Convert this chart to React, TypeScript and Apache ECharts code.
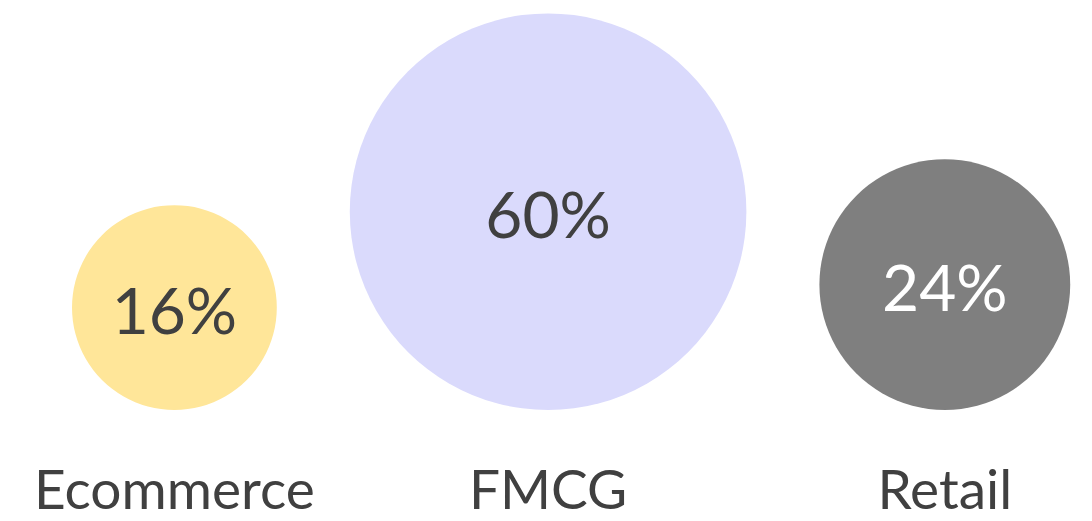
import React, { useEffect, useRef } from "react";
import * as echarts from "echarts";

const categories = ["Ecommerce", "FMCG", "Retail"];
const shares = [16, 60, 24];
const shareLabels = ["16%", "60%", "24%"];
const bubbleColors = ["#FFE699", "#DADAFC", "#7F7F7F"];
const shareLabelColors = ["#404040", "#404040", "#FFFFFF"];

const FONT = "Lato, 'Open Sans', sans-serif";

export default function App() {
  const ref = useRef<HTMLDivElement>(null);
  useEffect(() => {
    if (!ref.current) return;
    const chart = echarts.init(ref.current, undefined, { renderer: "svg" });
    const gap = 73;
    const sizeMax = 7.8125;
    const renderItem = (params: any, api: any) => {
      const idx = params.dataIndex;
      const origin = api.coord([0, 0]);
      const diams = shares.map((v) => api.size([0, Math.sqrt(v)])[1]);
      let x = origin[0];
      for (let i = 0; i < idx; i++) x += diams[i] + gap;
      const r = diams[idx] / 2;
      const cx = x + r;
      const cy = origin[1] - r;
      return {
        type: "group",
        children: [
          {
            type: "circle",
            shape: { cx, cy, r },
            style: { fill: bubbleColors[idx] },
          },
          {
            type: "text",
            x: cx,
            y: cy + 2,
            style: {
              text: shareLabels[idx],
              fill: shareLabelColors[idx],
              font: `64px ${FONT}`,
              align: "center",
              verticalAlign: "middle",
            },
          },
          {
            type: "text",
            x: cx,
            y: origin[1] + 78,
            style: {
              text: categories[idx],
              fill: "#404040",
              font: `55px ${FONT}`,
              lineHeight: 54,
              align: "center",
              verticalAlign: "middle",
            },
          },
        ],
      };
    };
    chart.setOption({
      animation: false,
      backgroundColor: "#FFFFFF",
      grid: { left: 72, right: 16, top: 10, bottom: 111 },
      xAxis: { type: "value", min: 0, max: 1000, show: false },
      yAxis: { type: "value", min: 0, max: sizeMax, show: false },
      series: [
        {
          type: "custom",
          renderItem,
          data: shares.map((v, i) => [i, v]),
          encode: { x: 0, y: 1 },
          clip: false,
        },
      ],
    });
    return () => chart.dispose();
  }, []);
  return (
    <div
      ref={ref}
      style={{ position: "fixed", left: 0, top: 0, width: 1092, height: 521 }}
    />
  );
}
